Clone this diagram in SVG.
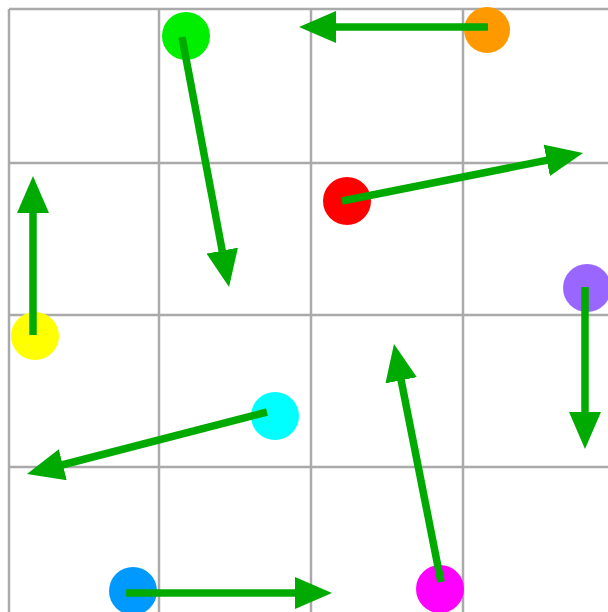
<svg xmlns="http://www.w3.org/2000/svg" width="608" height="612" viewBox="0 0 608 612">
  <style>
    .grid line { stroke: #aaaaaa; stroke-width: 2.5; }
    .edge { stroke: #00aa00; stroke-width: 7.5; fill: none; marker-end: url(#head); }
  </style>
  <defs>
    <marker id="head" viewBox="0 0 37 32" markerUnits="userSpaceOnUse" markerWidth="37" markerHeight="32" refX="7" refY="16" orient="auto">
      <path d="M0,0 L37,16 L0,32 Z" fill="#00aa00"/>
    </marker>
  </defs>
  <rect width="608" height="612" fill="#ffffff"/>
  <g class="grid">
    <line x1="9" y1="9" x2="9" y2="612"/>
    <line x1="159" y1="9" x2="159" y2="612"/>
    <line x1="311" y1="9" x2="311" y2="612"/>
    <line x1="463" y1="9" x2="463" y2="612"/>
    <line x1="9" y1="9" x2="608" y2="9"/>
    <line x1="9" y1="163" x2="608" y2="163"/>
    <line x1="9" y1="315" x2="608" y2="315"/>
    <line x1="9" y1="467" x2="608" y2="467"/>
  </g>
  <g id="node-green"><circle cx="186" cy="36" r="24" fill="#00ee00"/></g>
  <g id="node-orange"><circle cx="487" cy="30" r="23" fill="#ff9900"/></g>
  <g id="node-red"><circle cx="347" cy="201" r="24" fill="#ff0000"/></g>
  <g id="node-yellow"><circle cx="35" cy="336" r="24" fill="#ffff00"/></g>
  <g id="node-purple"><circle cx="587" cy="288" r="24" fill="#9966ff"/></g>
  <g id="node-cyan"><circle cx="275" cy="416" r="24" fill="#00ffff"/></g>
  <g id="node-blue"><circle cx="133" cy="591" r="24" fill="#0099ff"/></g>
  <g id="node-magenta"><circle cx="440" cy="589" r="24" fill="#ff00ff"/></g>
  <g id="connectors">
    <line class="edge" x1="182" y1="37" x2="223.5" y2="257.5"/>
    <line class="edge" x1="488" y1="27" x2="329" y2="27"/>
    <line class="edge" x1="342" y1="201" x2="553.6" y2="158.9"/>
    <line class="edge" x1="33" y1="335" x2="33" y2="206"/>
    <line class="edge" x1="585" y1="287" x2="585" y2="419"/>
    <line class="edge" x1="267" y1="412" x2="56" y2="466.5"/>
    <line class="edge" x1="126" y1="593" x2="302" y2="593"/>
    <line class="edge" x1="441" y1="582" x2="399.8" y2="373.4"/>
  </g>
</svg>
